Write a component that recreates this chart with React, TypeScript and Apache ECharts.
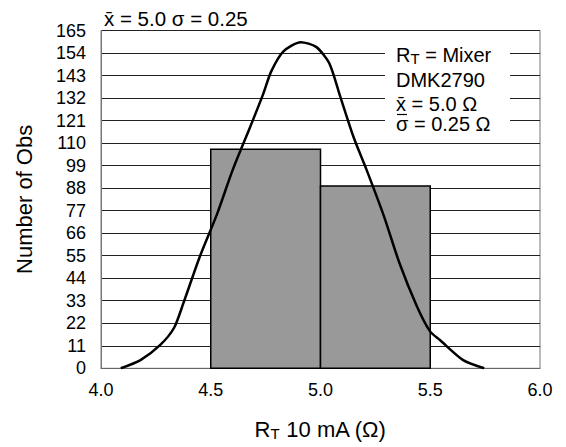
import React, { useEffect, useRef } from "react";
import * as echarts from "echarts";

// Histogram bins: [start, end, count]
const binStarts = [4.5, 5.0];
const binEnds = [5.0, 5.5];
const binCounts = [107, 89];

// Fitted normal curve points
const curveX = [4.09, 4.18, 4.27, 4.333, 4.375, 4.45, 4.53, 4.6, 4.68, 4.74, 4.775, 4.83, 4.91, 4.98, 5.04, 5.09, 5.15, 5.21, 5.29, 5.36, 5.44, 5.5, 5.544, 5.65, 5.746];
const curveY = [0, 4, 11.4, 19.8, 31.7, 54.5, 75.7, 96.9, 118, 134.3, 144.9, 154.7, 159.3, 157, 149, 132.7, 113.1, 96.9, 74, 51.3, 30.1, 17.9, 13.8, 4.0, 0];

const xTicks = [4.0, 4.5, 5.0, 5.5, 6.0];
const yMax = 165;
const yStep = 11;

const titleText = "x\u0304 = 5.0 \u03c3 = 0.25";
const legendLines = ["DMK2790", "x\u0304 = 5.0 \u03a9", "\u03c3 = 0.25 \u03a9"];

const FONT = "'Liberation Sans', Arial, Helvetica, sans-serif";

export default function App() {
  const ref = useRef<HTMLDivElement>(null);
  useEffect(() => {
    if (!ref.current) return;
    const chart = echarts.init(ref.current, undefined, { renderer: "svg" });
    const bins = binStarts.map((s, i) => [s, binEnds[i], binCounts[i]]);
    const curve = curveX.map((x, i) => [x, curveY[i]]);
    chart.setOption({
      animation: false,
      backgroundColor: "#fff",
      textStyle: { fontFamily: FONT },
      grid: {
        left: 101,
        right: 26,
        top: 30.5,
        bottom: 78.7,
        show: true,
        borderColor: "#777",
        borderWidth: 1,
      },
      xAxis: {
        type: "value",
        min: xTicks[0],
        max: xTicks[xTicks.length - 1],
        interval: 0.5,
        axisLine: { show: true, lineStyle: { color: "#666", width: 1 } },
        axisTick: { show: false },
        splitLine: { show: false },
        axisLabel: {
          fontSize: 18,
          color: "#000",
          margin: 13,
          fontFamily: FONT,
          formatter: (v: number) => v.toFixed(1),
        },
        name: "{a|R}{s|T}{a| 10 mA (\u03a9)}",
        nameLocation: "middle",
        nameGap: 50,
        nameTextStyle: {
          rich: {
            a: { fontSize: 22, color: "#000", fontFamily: FONT },
            s: { fontSize: 15, color: "#000", fontFamily: FONT, verticalAlign: "bottom", padding: [8, 0, 0, 0] },
          },
        },
      },
      yAxis: {
        type: "value",
        min: 0,
        max: yMax,
        interval: yStep,
        axisLine: { show: true, lineStyle: { color: "#777", width: 1 } },
        axisTick: { show: false },
        splitLine: { show: true, lineStyle: { color: "#222", width: 1 } },
        axisLabel: { fontSize: 18, color: "#000", margin: 15, fontFamily: FONT },
        name: "Number of Obs",
        nameLocation: "middle",
        nameRotate: 90,
        nameGap: 66,
        nameTextStyle: { fontSize: 22, color: "#000", fontFamily: FONT },
      },
      series: [
        {
          type: "custom",
          data: bins,
          encode: { x: [0, 1], y: 2 },
          z: 2,
          renderItem: (params: any, api: any) => {
            const p0 = api.coord([api.value(0), api.value(2)]);
            const p1 = api.coord([api.value(1), 0]);
            return {
              type: "rect",
              shape: { x: p0[0], y: p0[1], width: p1[0] - p0[0], height: p1[1] - p0[1] },
              style: { fill: "#999999", stroke: "#000", lineWidth: 1.5 },
            };
          },
        },
        {
          type: "line",
          data: curve,
          symbol: "none",
          smooth: 0.25,
          z: 3,
          lineStyle: { color: "#000", width: 2.5 },
        },
      ],
      graphic: [
        {
          type: "text",
          left: 104,
          top: 8,
          style: { text: titleText, fontSize: 20.5, fill: "#000", fontFamily: FONT },
        },
        {
          type: "rect",
          shape: { x: 385, y: 45, width: 125, height: 88 },
          style: { fill: "#fff" },
          z: 10,
        },
        {
          type: "text",
          x: 396,
          y: 55,
          z: 11,
          style: {
            text: "{a|R}{s|T}{a| = Mixer}",
            verticalAlign: "middle",
            rich: {
              a: { fontSize: 20, lineHeight: 19, fill: "#000", fontFamily: FONT },
              s: { fontSize: 15, lineHeight: 19, fill: "#000", fontFamily: FONT, padding: [7, 0, 0, 0] },
            },
          },
        },
        ...legendLines.map((t, i) => ({
          type: "text",
          x: 396,
          y: [79.5, 103.5, 123.5][i],
          z: 11,
          style: { text: t, fontSize: 20, lineHeight: 19, fill: "#000", fontFamily: FONT, verticalAlign: "middle" },
        })),
        {
          type: "line",
          z: 12,
          shape: { x1: 397, y1: 114.5, x2: 407, y2: 114.5 },
          style: { stroke: "#000", lineWidth: 1.2 },
        },
      ],
    });
    return () => chart.dispose();
  }, []);
  return <div ref={ref} style={{ position: "fixed", left: 0, top: 0, width: 566, height: 447 }} />;
}
